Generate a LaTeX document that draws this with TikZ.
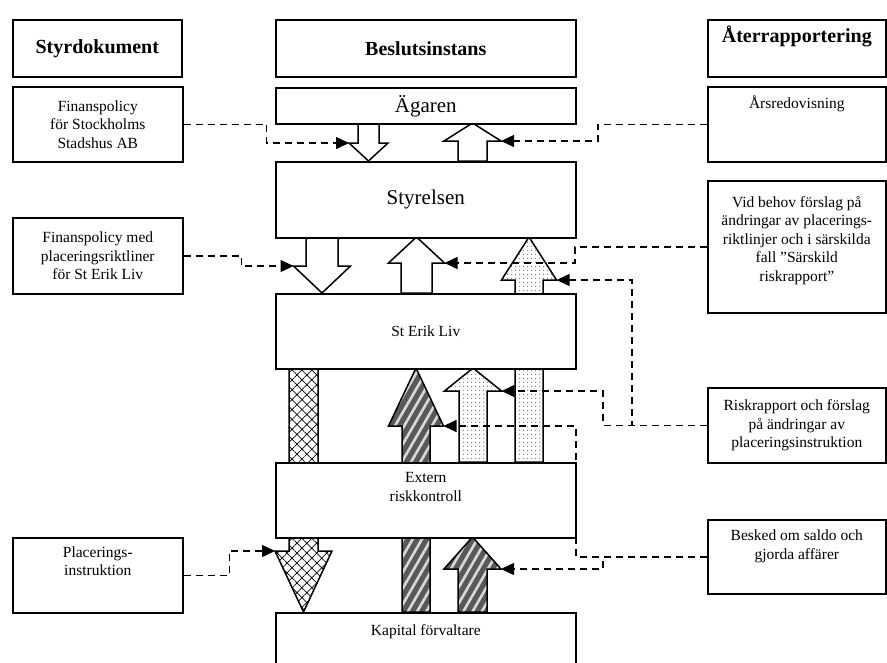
\documentclass[tikz,border=0pt]{standalone}
\usepackage{fontspec}
\setmainfont{Liberation Serif}
\usetikzlibrary{arrows.meta,patterns.meta}

% block arrow: name, style, x centre, y tail, y head base, y tip, shaft half width, head half width
\newcommand{\blockarrow}[8]{%
  \draw[#2] (#3-#7,#4) -- (#3-#7,#5) -- (#3-#8,#5) -- (#3,#6) -- (#3+#8,#5) -- (#3+#7,#5) -- (#3+#7,#4) -- cycle;
  \coordinate (#1-l) at (#3-#8,#5);
  \coordinate (#1-r) at (#3+#8,#5);
}

\begin{document}
\begin{tikzpicture}[
  x=1pt, y=-1pt,
  box/.style={draw, line width=1.6pt, fill=white, rectangle, anchor=north west, inner sep=0pt, align=center, font=\fontsize{15.5}{18.5}\selectfont},
  head/.style={box, font=\bfseries\fontsize{20}{23}\selectfont},
  big/.style={box, font=\fontsize{21}{25}\selectfont},
  txt/.style={inner sep=0pt, align=center, font=\fontsize{15.5}{18.5}\selectfont},
  plainarr/.style={draw, line width=1.5pt, fill=white},
  dotarr/.style={draw, line width=1.5pt, preaction={fill=white}, pattern={Dots[distance=4pt,radius=0.7pt]}, pattern color=black!55},
  hatcharr/.style={draw, line width=1.5pt, preaction={fill=white}, pattern={Hatch[angle=45,distance=7pt,line width=0.7pt]}},
  stripearr/.style={draw, line width=1.5pt, preaction={fill=black!65}, pattern={Lines[angle=60,distance=8pt,line width=2.6pt]}, pattern color=white!85!black},
  link/.style={line width=1.4pt, dash pattern=on 7pt off 5pt, -{Triangle[length=13pt,width=12pt]}}
]
\useasboundingbox (0,0) rectangle (887,662);

% ================= BLOCK ARROWS =================
\blockarrow{a1}{plainarr}{368.5}{123}{143}{161}{10.5}{19.5}
\blockarrow{a2}{plainarr}{472.5}{161}{141}{123}{14.5}{28.5}
\blockarrow{a3}{plainarr}{322}{237}{266}{293}{16}{28.5}
\blockarrow{a4}{plainarr}{416.5}{293}{263}{237}{15.5}{28}
\blockarrow{a5}{dotarr}{529}{462}{280}{237}{14}{27.5}
\blockarrow{a6}{stripearr}{416}{612}{426}{368}{14}{27.5}
\blockarrow{a7}{dotarr}{473}{462}{391}{368}{14}{28.5}
\blockarrow{a8}{hatcharr}{303.5}{368}{551}{612}{14.5}{28.5}
\blockarrow{a9}{stripearr}{472.5}{612}{569}{537}{14.5}{28.5}

% ================= HEADERS =================
\node[head, minimum width=169pt, minimum height=57pt] (hdrdoc) at (12,19) {Styrdokument};
\node[head, minimum width=300pt, minimum height=57pt] (hdrbes) at (275,19) {Beslutsinstans};
\node[head, minimum width=178pt, minimum height=57pt,
  label={[txt, font=\bfseries\fontsize{20}{23}\selectfont, anchor=north, yshift=-7pt]north:{Återrapportering}}] (hdrater) at (707,19) {};

% ================= CENTRE COLUMN =================
\node[big, minimum width=300pt, minimum height=36pt] (agaren) at (275,87) {Ägaren};
\node[big, minimum width=300pt, minimum height=76pt] (styr) at (275,161) {Styrelsen};
\node[box, minimum width=300pt, minimum height=75pt] (sterik) at (275,293) {St Erik Liv};
\node[box, minimum width=300pt, minimum height=75pt,
  label={[txt, anchor=north, yshift=-10.5pt]north:{Extern\\riskkontroll}}] (extern) at (275,462) {};
\node[box, minimum width=300pt, minimum height=52pt,
  label={[txt, anchor=north, yshift=-12pt]north:{Kapital förvaltare}}] (kapital) at (275,612) {};

% ================= LEFT COLUMN =================
\node[box, minimum width=170pt, minimum height=75pt] (fin1) at (12,86) {Finanspolicy\\för Stockholms\\Stadshus AB};
\node[box, minimum width=170pt, minimum height=76pt] (fin2) at (12,217) {Finanspolicy med\\placeringsriktliner\\för St Erik Liv};
\node[box, minimum width=170pt, minimum height=75pt,
  label={[txt, anchor=north, yshift=-9.5pt]north:{Placerings-\\instruktion}}] (plac) at (12,537) {};

% ================= RIGHT COLUMN =================
\node[box, minimum width=178pt, minimum height=75pt,
  label={[txt, anchor=north, yshift=-10pt]north:{Årsredovisning}}] (ars) at (707,86) {};
\node[box, minimum width=178pt, minimum height=132pt,
  label={[txt, anchor=north, yshift=-16pt]north:{Vid behov förslag på\\ändringar av placerings-\\riktlinjer och i särskilda\\fall ”Särskild\\riskrapport”}}] (vid) at (707,180) {};
\node[box, minimum width=178pt, minimum height=75pt] (risk) at (707,387) {Riskrapport och förslag\\på ändringar av\\placeringsinstruktion};
\node[box, minimum width=178pt, minimum height=74pt,
  label={[txt, anchor=north, yshift=-11pt]north:{Besked om saldo och\\gjorda affärer}}] (besked) at (707,519) {};

% ================= DASHED LINKS =================
\draw[link] (fin1.east) -- ++(83,0) |- (a1-l);
\draw[link] (ars.west) -- ++(-109,0) |- (a2-r);
\draw[link] (fin2.east) -- ++(58,0) |- (a3-l);
\draw[link] (vid.west) -- ++(-132,0) |- (a4-r);
\draw[link] (risk.west) -- ++(-75,0) |- (a5-r);
\draw[link] (risk.west) -- ++(-104,0) |- (a7-r);
\draw[link] (besked.west) -- ++(-131,0) |- (a6-r);
\draw[link] (besked.west) -- ++(-104,0) |- (a9-r);
\draw[link] (plac.east) -- ++(46,0) |- (a8-l);

\end{tikzpicture}
\end{document}
